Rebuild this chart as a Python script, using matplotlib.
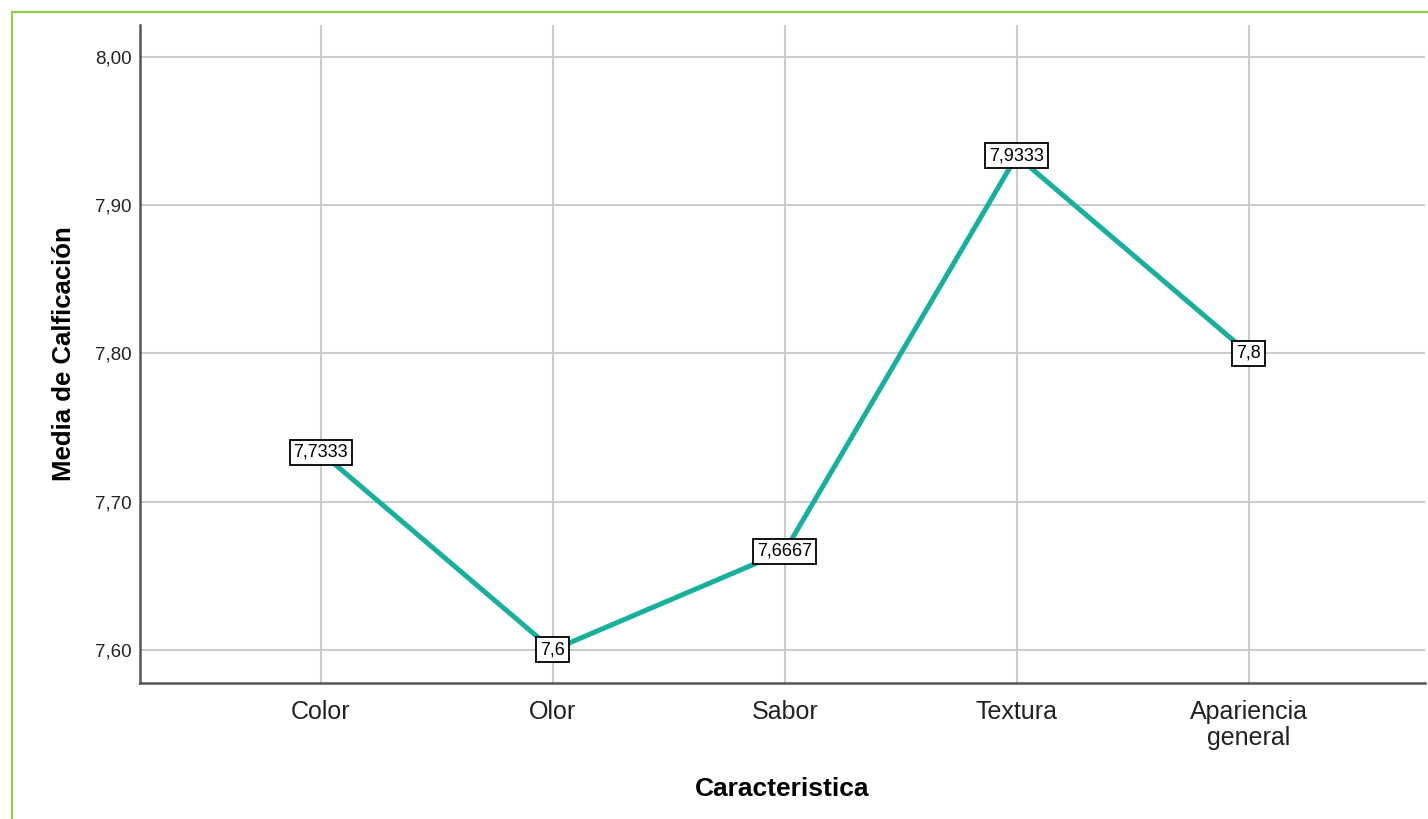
import matplotlib
matplotlib.use("Agg")
import matplotlib.pyplot as plt
from matplotlib.patches import Rectangle
from matplotlib.ticker import FuncFormatter

plt.rcParams['font.family'] = ['Liberation Sans', 'DejaVu Sans']

# mean score per attribute
categories = ['Color', 'Olor', 'Sabor', 'Textura', 'Apariencia\ngeneral']
means = [7.7333, 7.6, 7.6667, 7.9333, 7.8]
yticks = [7.60, 7.70, 7.80, 7.90, 8.00]

fig = plt.figure(figsize=(14.28, 8.19), dpi=100)
fig.patch.set_facecolor('white')

# green frame around the chart (only top/left edges fall inside the figure)
fig.patches.append(Rectangle((12 / 1428, -0.1), 1.2, 1 - 12 / 819 + 0.1,
                             transform=fig.transFigure, fill=False,
                             edgecolor='#8fd14f', linewidth=1.6))

ax = fig.add_axes([140 / 1428, 1 - 683 / 819, 1285 / 1428, 658 / 819])
x = list(range(len(categories)))
ax.plot(x, means, color='#17b09c', linewidth=3.6, solid_capstyle='butt', zorder=3)

for xi, m in zip(x, means):
    txt = f"{m:g}".replace('.', ',')
    ax.text(xi, m, txt, ha='center', va='center', fontsize=13, color='black', zorder=5,
            bbox=dict(boxstyle='square,pad=0.22', facecolor='white', edgecolor='black', linewidth=1.3))

ax.set_xlim(-0.78, 4.76)
ax.set_ylim(7.5777, 8.0216)
ax.set_xticks(x)
ax.set_xticklabels(categories, fontsize=18, color='#222222', linespacing=1.1)
ax.set_yticks(yticks)
ax.yaxis.set_major_formatter(FuncFormatter(lambda v, p: f"{v:.2f}".replace('.', ',')))
ax.tick_params(axis='y', length=0, pad=6, labelsize=13.5, labelcolor='#222222')
ax.tick_params(axis='x', length=0, pad=12)

ax.grid(True, color='#cccccc', linewidth=1.5)
ax.set_axisbelow(True)
for s in ['top', 'right']:
    ax.spines[s].set_visible(False)
for s in ['left', 'bottom']:
    ax.spines[s].set_color('#555555')
    ax.spines[s].set_linewidth(1.8)

ax.set_xlabel('Caracteristica', fontsize=19, fontweight='bold', labelpad=20)
ax.set_ylabel('Media de Calficación', fontsize=18.5, fontweight='bold', labelpad=14)

fig.savefig('out.png', dpi=100, facecolor='white')
